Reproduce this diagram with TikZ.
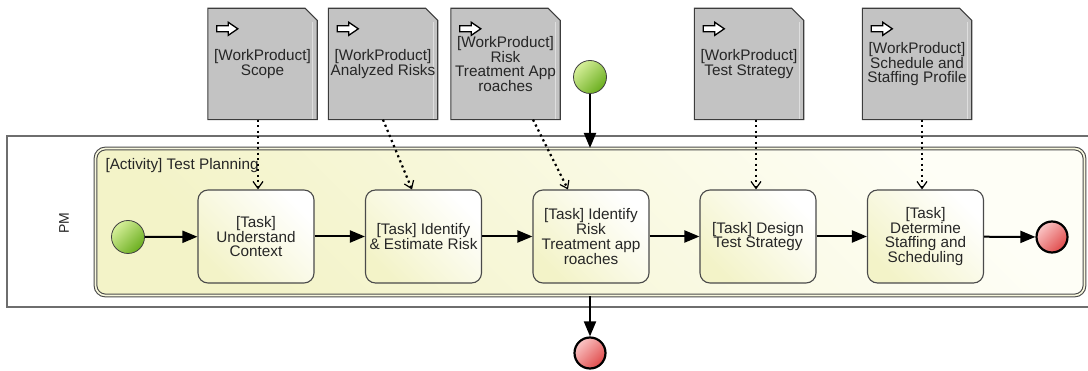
\documentclass[tikz,border=0pt]{standalone}
\usepackage{fontspec}
\setmainfont{Liberation Sans}
\usetikzlibrary{arrows.meta,backgrounds}

\definecolor{ink}{HTML}{262626}
\definecolor{boxline}{HTML}{4A4A4A}
\definecolor{poolline}{HTML}{6E6E6E}
\definecolor{paleyellow}{HTML}{F3F3C8}
\definecolor{lightyellow}{HTML}{FEFEF6}
\definecolor{docgray}{HTML}{C3C3C3}
\definecolor{docline}{HTML}{3C3C3C}
\definecolor{greenlight}{HTML}{D6EF9A}
\definecolor{greendark}{HTML}{6AAE1E}
\definecolor{redlight}{HTML}{FAC6C6}
\definecolor{reddark}{HTML}{E04A4A}

\tikzset{
  txt/.style={font=\fontsize{15.3}{14.1}\selectfont, text=ink},
  pool/.style={draw=poolline, line width=1.4pt, fill=white,
    minimum width=1100pt, minimum height=171pt},
  activity/.style={draw=boxline, line width=1.1pt, double=paleyellow!60!white,
    double distance=1.6pt, rounded corners=10pt,
    minimum width=989pt, minimum height=147pt,
    top color=lightyellow, bottom color=paleyellow, shading angle=-45},
  taskbox/.style={txt, draw=boxline, line width=1.1pt, rounded corners=10pt,
    minimum width=116pt, minimum height=93pt, align=center, inner sep=0pt,
    top color=white, bottom color=paleyellow, shading angle=-45},
  wpdoc/.style={txt, minimum width=109pt, minimum height=111pt,
    align=center, inner sep=0pt},
  docshape/.style={draw=docline, line width=1.1pt, fill=docgray},
  icon/.style={draw=black, line width=1.3pt, fill=white, line join=miter},
  startev/.style={circle, draw=black!75, line width=0.8pt, minimum size=33pt,
    inner sep=0pt, top color=greenlight, bottom color=greendark, shading angle=45},
  endev/.style={circle, draw=black, line width=2.2pt, minimum size=31pt,
    inner sep=0pt, top color=redlight, bottom color=reddark, shading angle=45},
  flow/.style={draw=black, line width=2pt, -{Triangle[length=15pt,width=12pt]}},
  assoc/.style={draw=black, line width=2.2pt, dash pattern=on 2.2pt off 3.3pt,
    -{Straight Barb[length=7pt,width=10pt,line width=1.2pt]}},
}

\begin{document}
\begin{tikzpicture}[x=1pt,y=-1pt]
\useasboundingbox (0,0) rectangle (1088,371);

% pool with its single lane
\node[pool] (pool) at (557,221.5) {};
\node[txt, font=\fontsize{14}{14}\selectfont, rotate=90] (lane) at (64,223) {PM};

% the sub-process
\node[activity] (act) at (590,222) {};
\node[txt, anchor=base west] (actlabel) at (102,170) {[Activity] Test Planning};

% tasks
\node[taskbox] (t1) at (256,236.5)   {[Task]\\Understand\\Context};
\node[taskbox] (t2) at (423.5,236.5) {[Task] Identify\\\& Estimate Risk};
\node[taskbox] (t3) at (591,236.5)   {[Task] Identify\\Risk\\Treatment app\\roaches};
\node[taskbox] (t4) at (758,236.5)   {[Task] Design\\Test Strategy};
\node[taskbox] (t5) at (925.5,236.5) {[Task]\\Determine\\Staffing and\\Scheduling};

% events
\node[startev] (s1) at (128,237) {};
\node[endev]   (e1) at (1052,237) {};
\node[startev] (s2) at (590,77) {};
\node[endev]   (e2) at (590,353) {};

% work products
\node[wpdoc] (wp1) at (262.5,64) {[WorkProduct]\\Scope};
\node[wpdoc] (wp2) at (383,64)   {[WorkProduct]\\Analyzed Risks};
\node[wpdoc] (wp3) at (505.5,64) {[WorkProduct]\\Risk\\Treatment App\\roaches};
\node[wpdoc] (wp4) at (749,64)   {[WorkProduct]\\Test Strategy};
\node[wpdoc] (wp5) at (917,64)   {[WorkProduct]\\Schedule and\\Staffing Profile};

% document outlines with a folded corner, behind the texts
\begin{scope}[on background layer]
  \foreach \w in {wp1,wp2,wp3,wp4,wp5} {
    \path[docshape] (\w.north west) -- ([xshift=-12pt]\w.north east)
      -- ([yshift=-12pt]\w.north east) -- (\w.south east)
      -- (\w.south west) -- cycle;
    \draw[docgray!55!white, line width=0.8pt]
      ([xshift=-4.5pt,yshift=-14pt]\w.north east) -- ([xshift=-4.5pt,yshift=1pt]\w.south east);
  }
\end{scope}

% input marker on each document
\foreach \w in {wp1,wp2,wp3,wp4,wp5} {
  \draw[icon] ([xshift=9pt,yshift=-17.5pt]\w.north west)
    -- ++(11.5pt,0pt) -- ++(0pt,3.5pt) -- ++(9.5pt,-6.5pt) -- ++(-9.5pt,-6.5pt)
    -- ++(0pt,3.5pt) -- ++(-11.5pt,0pt) -- cycle;
}

% sequence flows
\draw[flow] (s1) -- (t1);
\draw[flow] (t1) -- (t2);
\draw[flow] (t2) -- (t3);
\draw[flow] (t3) -- (t4);
\draw[flow] (t4) -- (t5);
\draw[flow] (t5) -- (e1);
\draw[flow] (s2) -- (act.north);
\draw[flow] (act.south) -- (e2);

% data associations
\draw[assoc] ([xshift=-4.5pt]wp1.south) -- ([xshift=2pt]t1.north);
\draw[assoc] (wp2.south) -- ([xshift=-11.5pt]t2.north);
\draw[assoc] ([xshift=27.5pt]wp3.south) -- ([xshift=-23pt]t3.north);
\draw[assoc] ([xshift=7pt]wp4.south) -- ([xshift=-2pt]t4.north);
\draw[assoc] ([xshift=5pt]wp5.south) -- ([xshift=-3.5pt]t5.north);
\end{tikzpicture}
\end{document}
